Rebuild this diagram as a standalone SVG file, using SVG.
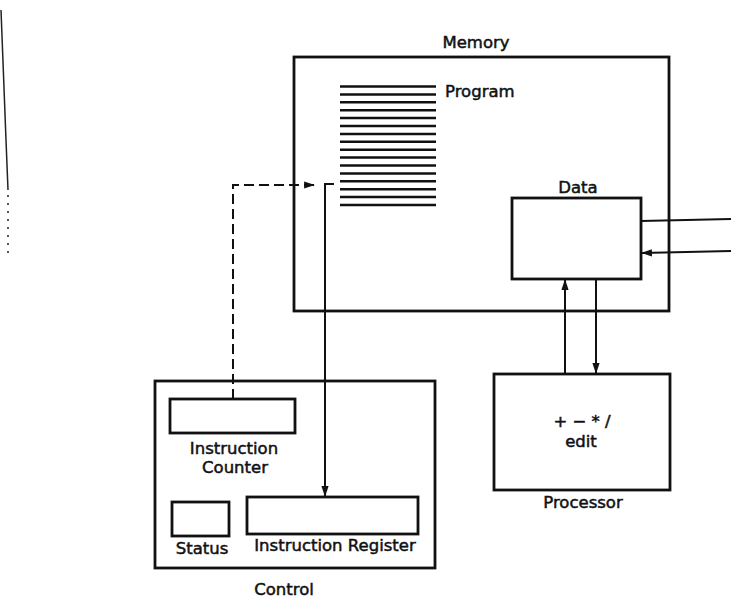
<svg xmlns="http://www.w3.org/2000/svg" width="739" height="604" viewBox="0 0 739 604">
  <defs>
    <marker id="arrow" viewBox="0 0 12 10" refX="11" refY="5" markerWidth="11" markerHeight="9" markerUnits="userSpaceOnUse" orient="auto">
      <path d="M0,1 L12,5 L0,9 Z" fill="#111"/>
    </marker>
    <style>
      .box { fill: none; stroke: #111; stroke-width: 2.8; }
      .conn { fill: none; stroke: #111; stroke-width: 2; }
      .dash { fill: none; stroke: #111; stroke-width: 2; stroke-dasharray: 10 5; }
      .prog { stroke: #111; stroke-width: 2.5; }
      .lbl { font-family: "DejaVu Sans", "Liberation Sans", sans-serif; font-size: 16.5px; fill: #111; stroke: #111; stroke-width: 0.5; }
      .mid { text-anchor: middle; }
      .scan { fill: none; stroke: #222; stroke-width: 1.5; }
    </style>
  </defs>
  <rect width="739" height="604" fill="#fff"/>

  <!-- scan edge artifact -->
  <path class="scan" d="M1,10 L6,140 L8,190"/>
  <path class="scan" d="M8,195 V255" stroke-dasharray="2 6"/>

  <g id="memory">
    <rect class="box" x="294" y="57" width="375" height="254"/>
    <text class="lbl mid" x="476" y="48">Memory</text>
  </g>

  <g id="program">
    <line class="prog" x1="340" y1="86.5" x2="436" y2="86.5"/>
    <line class="prog" x1="340" y1="94.4" x2="436" y2="94.4"/>
    <line class="prog" x1="340" y1="102.3" x2="436" y2="102.3"/>
    <line class="prog" x1="340" y1="110.2" x2="436" y2="110.2"/>
    <line class="prog" x1="340" y1="118.1" x2="436" y2="118.1"/>
    <line class="prog" x1="340" y1="126" x2="436" y2="126"/>
    <line class="prog" x1="340" y1="133.9" x2="436" y2="133.9"/>
    <line class="prog" x1="340" y1="141.8" x2="436" y2="141.8"/>
    <line class="prog" x1="340" y1="149.7" x2="436" y2="149.7"/>
    <line class="prog" x1="340" y1="157.6" x2="436" y2="157.6"/>
    <line class="prog" x1="340" y1="165.5" x2="436" y2="165.5"/>
    <line class="prog" x1="340" y1="173.4" x2="436" y2="173.4"/>
    <line class="prog" x1="340" y1="181.3" x2="436" y2="181.3"/>
    <line class="prog" x1="340" y1="189.2" x2="436" y2="189.2"/>
    <line class="prog" x1="340" y1="197.1" x2="436" y2="197.1"/>
    <line class="prog" x1="340" y1="205" x2="436" y2="205"/>
    <text class="lbl" x="445" y="97">Program</text>
  </g>

  <g id="data">
    <rect class="box" x="512" y="198" width="129" height="81"/>
    <text class="lbl mid" x="578" y="193">Data</text>
  </g>

  <g id="processor">
    <rect class="box" x="494" y="374" width="176" height="116"/>
    <text class="lbl mid" x="582" y="427">+ − * /</text>
    <text class="lbl mid" x="581" y="447">edit</text>
    <text class="lbl mid" x="583" y="508">Processor</text>
  </g>

  <g id="control">
    <rect class="box" x="155" y="381" width="280" height="187"/>
    <text class="lbl mid" x="284" y="595">Control</text>
  </g>

  <g id="instruction-counter">
    <rect class="box" x="170" y="399" width="125" height="34"/>
    <text class="lbl mid" x="234" y="454">Instruction</text>
    <text class="lbl mid" x="235" y="473">Counter</text>
  </g>

  <g id="status">
    <rect class="box" x="172" y="502" width="57" height="34"/>
    <text class="lbl mid" x="202" y="554">Status</text>
  </g>

  <g id="instruction-register">
    <rect class="box" x="247" y="497" width="171" height="37"/>
    <text class="lbl mid" x="335" y="551">Instruction Register</text>
  </g>

  <g id="connectors">
    <path class="dash" d="M233,399 V185 H314" marker-end="url(#arrow)"/>
    <path class="conn" d="M334,184 H325 V496" marker-end="url(#arrow)"/>
    <line class="conn" x1="565" y1="374" x2="565" y2="280" marker-end="url(#arrow)"/>
    <line class="conn" x1="596" y1="279" x2="596" y2="373" marker-end="url(#arrow)"/>
    <line class="conn" x1="641" y1="221" x2="731" y2="219"/>
    <line class="conn" x1="731" y1="251" x2="642" y2="253" marker-end="url(#arrow)"/>
  </g>
</svg>
